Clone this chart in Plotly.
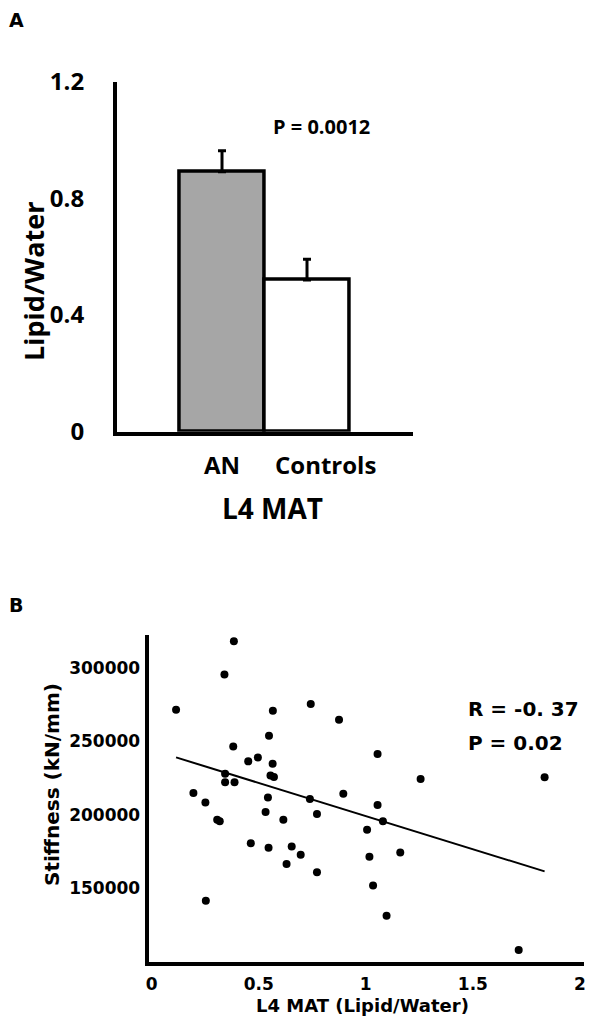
import plotly.graph_objects as go

# ---------------- Data ----------------
# Panel A: L4 MAT bars
categories = ["AN", "Controls"]
lipid_water_mean = [0.891, 0.520]
lipid_water_err = [0.072, 0.071]
bar_colors = ["#a6a6a6", "#ffffff"]
a_yticks = [0, 0.4, 0.8, 1.2]
a_yticklabels = ["0", "0.4", "0.8", "1.2"]

# Panel B: Stiffness vs L4 MAT
mat_x = [0.114, 0.340, 0.384, 0.566, 0.743, 0.875, 0.548, 0.381, 0.451, 0.496,
         0.565, 0.343, 0.555, 0.571, 0.343, 0.387, 0.195, 0.251, 0.543, 0.739,
         0.895, 0.306, 0.318, 0.532, 0.615, 0.772, 1.055, 1.055, 1.080, 1.006,
         1.256, 1.835, 0.463, 0.546, 0.654, 0.696, 0.630, 0.772, 1.017, 1.161,
         1.034, 1.097, 0.253, 1.714]
stiffness = [271600, 295500, 318200, 270900, 275500, 264800, 253900, 246600, 236400, 239100,
             234800, 228000, 226800, 225700, 222100, 222100, 214800, 208400, 211800, 210700,
             214300, 196600, 195500, 201800, 196600, 200500, 241400, 206600, 195500, 189800,
             224300, 225500, 180500, 177500, 178400, 172700, 166400, 160900, 171400, 174300,
             151800, 131100, 141400, 107900]
trend_slope = -45150.0
trend_intercept = 244250.0
b_xticks = [0, 0.5, 1, 1.5, 2]
b_xticklabels = ["0", "0.5", "1", "1.5", "2"]
b_yticks = [150000, 200000, 250000, 300000]
b_yticklabels = ["150000", "200000", "250000", "300000"]

W, H = 603, 1035
OFF = 8  # page body margin offset compensation

def px(x):
    return (x - OFF) / W
def py(y):
    return 1 - (y - OFF) / H

FA = "Open Sans"
FB = "DejaVu Sans"

fig = go.Figure()

# Panel A bars
fig.add_trace(go.Bar(
    x=categories, y=lipid_water_mean,
    marker=dict(color=bar_colors, line=dict(color="black", width=3.5)),
    width=[1, 1],
    error_y=dict(type="data", symmetric=False, array=lipid_water_err,
                 arrayminus=[0, 0], color="black", thickness=3, width=4),
    xaxis="x", yaxis="y", showlegend=False,
))

# Panel B scatter
fig.add_trace(go.Scatter(
    x=mat_x, y=stiffness, mode="markers",
    marker=dict(color="black", size=8),
    xaxis="x2", yaxis="y2", showlegend=False,
))
xmin, xmax = min(mat_x), max(mat_x)
fig.add_trace(go.Scatter(
    x=[xmin, xmax],
    y=[trend_intercept + trend_slope * xmin, trend_intercept + trend_slope * xmax],
    mode="lines", line=dict(color="black", width=2),
    xaxis="x2", yaxis="y2", showlegend=False,
))

fig.update_layout(
    width=W, height=H,
    margin=dict(l=0, r=0, t=0, b=0, pad=0, autoexpand=False),
    paper_bgcolor="white", plot_bgcolor="white",
    bargap=0,
    xaxis=dict(domain=[px(116.7), px(413)], range=[-1.239, 2.247], type="category",
               showline=True, linecolor="black", linewidth=3.5, showticklabels=False,
               ticks="", showgrid=False, zeroline=False, automargin=False),
    yaxis=dict(domain=[py(431.7), py(81.7)], range=[0, 1.2],
               tickvals=a_yticks, ticktext=a_yticklabels,
               showline=True, linecolor="black", linewidth=3.5, ticks="",
               ticklabelstandoff=24, automargin=False,
               tickfont=dict(family=FA, size=24, color="black", weight="bold"),
               showgrid=False, zeroline=False),
    xaxis2=dict(domain=[px(149.3), px(584)], range=[-0.011, 2.019], anchor="y2",
                tickvals=b_xticks, ticktext=b_xticklabels,
                showline=True, linecolor="black", linewidth=3.5, ticks="",
                ticklabelstandoff=4, automargin=False,
                tickfont=dict(family=FB, size=17, color="black", weight="bold"),
                showgrid=False, zeroline=False),
    yaxis2=dict(domain=[py(961.5), py(635)], range=[100000, 322500], anchor="x2",
                tickvals=b_yticks, ticktext=b_yticklabels,
                showline=True, linecolor="black", linewidth=3.5, ticks="",
                ticklabelstandoff=2, automargin=False,
                tickfont=dict(family=FB, size=17, color="black", weight="bold"),
                showgrid=False, zeroline=False),
)

def ann(text, x, y, size, family, xanchor="center", yanchor="middle", textangle=0,
        xref="paper", xshift=0):
    fig.add_annotation(text=text, x=x, y=y, xref=xref, yref="paper",
                       xanchor=xanchor, yanchor=yanchor, showarrow=False,
                       textangle=textangle, xshift=xshift, borderpad=0,
                       font=dict(family=family, size=size, color="black", weight="bold"))

# Panel A texts
ann("A", 0, 1, 19, FB, xanchor="left", yanchor="top")
ann("Lipid/Water", px(33), py(282), 27, FA, textangle=-90)
ann("P = 0.0012", px(321), py(127), 20, FA)
ann(categories[0], categories[0], py(465), 24, FA, xref="x")
ann(categories[1], categories[1], py(465), 24, FA, xref="x", xshift=18)
ann("L4 MAT", px(272), py(508), 28, FA)

# Panel B texts
ann("B", 0, py(605), 19, FB, xanchor="left")
ann("Stiffness (kN/mm)", px(52), py(785), 20, FB, textangle=-90)
ann("L4 MAT (Lipid/Water)", px(362.5), py(1005), 18, FB)
ann("R = -0. 37", px(466.7), py(709), 20, FB, xanchor="left")
ann("P = 0.02", px(466.7), py(743), 20, FB, xanchor="left")

fig.write_html("out.html")
